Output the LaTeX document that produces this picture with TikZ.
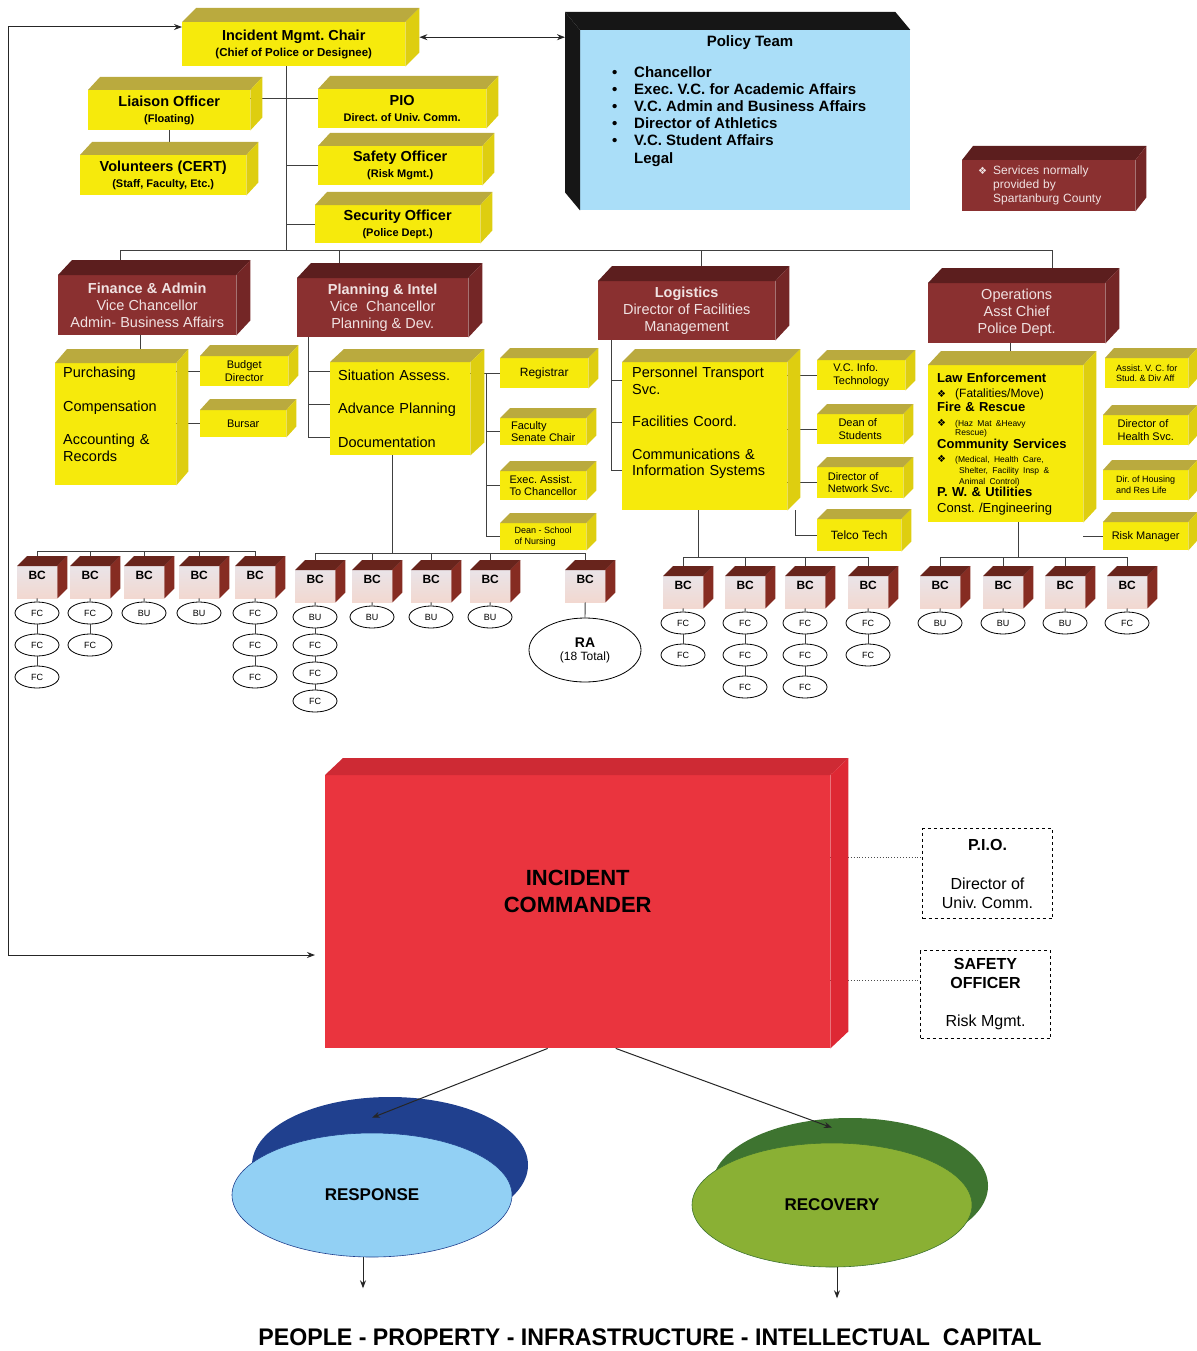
\documentclass[tikz,border=0pt]{standalone}
\usepackage{fontspec}
\setmainfont{Liberation Sans}
\newfontfamily\symfont{DejaVu Sans}
\usetikzlibrary{positioning,calc,shapes.geometric,arrows.meta}

\definecolor{yelfront}{RGB}{246,234,12}
\definecolor{yeltop}{RGB}{186,170,62}
\definecolor{yelside}{RGB}{222,206,16}
\definecolor{brnfront}{RGB}{138,48,48}
\definecolor{brntop}{RGB}{92,30,30}
\definecolor{brnside}{RGB}{116,38,38}
\definecolor{brntext}{RGB}{240,226,226}
\definecolor{polfront}{RGB}{170,222,248}
\definecolor{poldark}{RGB}{22,22,22}
\definecolor{icfront}{RGB}{234,52,62}
\definecolor{ictop}{RGB}{206,42,52}
\definecolor{icside}{RGB}{222,40,52}
\definecolor{bcfronttop}{RGB}{234,228,232}
\definecolor{bcfrontbot}{RGB}{242,216,208}
\definecolor{bctop}{RGB}{104,36,28}
\definecolor{bcside}{RGB}{134,44,34}
\definecolor{respfront}{RGB}{146,208,244}
\definecolor{respback}{RGB}{32,64,142}
\definecolor{recfront}{RGB}{138,176,52}
\definecolor{recback}{RGB}{62,116,48}

\newcommand\fsz[2]{\fontsize{#1}{#2}\selectfont}
\newcommand\fleuron{{\symfont\fsz{10}{10}\char"2756}}
% top and right faces of a box node
\newcommand\faces[4]{%
  \fill[#4top] (#1.north west) -- ++(#2,-#3) -- ([shift={(#2,-#3)}]#1.north east) -- (#1.north east) -- cycle;
  \fill[#4side] (#1.north east) -- ([shift={(#2,-#3)}]#1.north east) -- ([shift={(#2,-#3)}]#1.south east) -- (#1.south east) -- cycle;
}

\pgfdeclarelayer{bg}
\pgfsetlayers{bg,main}

\tikzset{
  yelbox/.style={rectangle, fill=yelfront, anchor=north west, inner sep=0pt, align=center, font=\bfseries\fsz{14.5}{16}},
  smallbox/.style={rectangle, fill=yelfront, anchor=north west, inner sep=0pt, align=left, font=\fsz{11}{12.5}},
  listbox/.style={rectangle, fill=yelfront, anchor=north west, inner sep=0pt, align=left, font=\fsz{14.5}{16.5}},
  brnbox/.style={rectangle, fill=brnfront, anchor=north west, inner sep=0pt, align=center, text=brntext, font=\fsz{14.5}{17}},
  bcbox/.style={rectangle, top color=bcfronttop, bottom color=bcfrontbot, anchor=north west, minimum width=40, minimum height=32, inner sep=0pt, text height=8pt, text depth=13pt, font=\bfseries\fsz{12}{14}},
  unit/.style={ellipse, draw, line width=0.8, fill=white, minimum width=44, minimum height=22, inner sep=0pt, font=\fsz{9}{10}},
  sidebox/.style={rectangle, draw, dashed, line width=1, anchor=north west, inner sep=0pt, align=center, font=\fsz{16}{19}},
  link/.style={draw=black!75, line width=0.9},
  dots/.style={draw=black!70, dotted, line width=0.9},
  arr/.style={draw=black!85, line width=1, -{Stealth[length=8pt,width=6pt]}},
  dbl/.style={draw=black!85, line width=1, {Stealth[length=8pt,width=6pt]}-{Stealth[length=8pt,width=6pt]}},
}

\begin{document}
\frenchspacing
\begin{tikzpicture}[x=1pt, y=-1pt]
\useasboundingbox (0,0) rectangle (1196,1351);

% command staff
\node[yelbox, minimum width=223, minimum height=44] (chair) at (182,22) {Incident Mgmt. Chair\\{\fsz{11.5}{13}(Chief of Police or Designee)}};
\faces{chair}{14}{14}{yel}
\node[yelbox, minimum width=162, minimum height=40] (liaison) at (88,90) {Liaison Officer\\{\fsz{11}{13}(Floating)}};
\faces{liaison}{12}{13}{yel}
\node[yelbox, minimum width=166, minimum height=40] (volunteers) at (80,155) {Volunteers (CERT)\\{\fsz{11}{13}(Staff, Faculty, Etc.)}};
\faces{volunteers}{12}{13}{yel}
\node[yelbox, minimum width=168, minimum height=39] (pio) at (318,89) {PIO\\{\fsz{11}{13}Direct. of Univ. Comm.}};
\faces{pio}{12}{13}{yel}
\node[yelbox, minimum width=164, minimum height=39] (safety) at (318,146) {Safety Officer\\{\fsz{11}{13}(Risk Mgmt.)}};
\faces{safety}{12}{13}{yel}
\node[yelbox, minimum width=165, minimum height=38] (security) at (315,205) {Security Officer\\{\fsz{11}{13}(Police Dept.)}};
\faces{security}{12}{13}{yel}

% policy team
\node[rectangle, fill=polfront, anchor=north west, minimum width=330, minimum height=180, inner sep=0pt] (policy) at (580,30) {};
\fill[poldark] (policy.north west) -- ++(-15,-18) -- ([shift={(-15,-18)}]policy.north east) -- (policy.north east) -- cycle;
\fill[poldark] (policy.north west) -- ++(-15,-18) -- ([shift={(-15,-18)}]policy.south west) -- (policy.south west) -- cycle;
\node[font=\bfseries\fsz{15}{17}, anchor=base] (policytitle) at (750,47) {Policy Team};
\node[anchor=north west, align=left, inner sep=0pt, font=\bfseries\fsz{15}{17.2}] (policylist) at (612,66) {\makebox[22pt][l]{\textbullet}Chancellor\\
  \makebox[22pt][l]{\textbullet}Exec. V.C. for Academic Affairs\\
  \makebox[22pt][l]{\textbullet}V.C. Admin and Business Affairs\\
  \makebox[22pt][l]{\textbullet}Director of Athletics\\
  \makebox[22pt][l]{\textbullet}V.C. Student Affairs\\
  \hspace*{22pt}Legal};

\node[rectangle, fill=brnfront, anchor=north west, minimum width=173, minimum height=51, inner sep=0pt, align=left, text width=141, text=brntext, font=\fsz{12}{14}] (services) at (962,160) {\makebox[15pt][l]{\fleuron}Services normally\\\hspace*{15pt}provided by\\\hspace*{15pt}Spartanburg County};
\faces{services}{11}{14}{brn}

% sections
\node[brnbox, minimum width=178, minimum height=60] (fin) at (58,275) {\textbf{Finance \& Admin}\\Vice Chancellor\\Admin- Business Affairs};
\faces{fin}{14}{15}{brn}
\node[brnbox, minimum width=171, minimum height=59] (plan) at (297,278) {\textbf{Planning \& Intel}\\Vice\ \ Chancellor\\Planning \& Dev.};
\faces{plan}{14}{15}{brn}
\node[brnbox, minimum width=177, minimum height=59] (logi) at (598,281) {\textbf{Logistics}\\Director of Facilities\\Management};
\faces{logi}{14}{15}{brn}
\node[brnbox, minimum width=177, minimum height=60] (ops) at (928,283) {Operations\\Asst Chief\\Police Dept.};
\faces{ops}{14}{15}{brn}

% finance
\node[listbox, minimum width=121, minimum height=122, text width=105] (finbox) at (55,363) {Purchasing\\[17pt]Compensation\\[17pt]Accounting \&\\Records\\[3.5pt]\mbox{}};
\faces{finbox}{12}{14}{yel}
\node[smallbox, align=center, minimum width=88, minimum height=30] (budget) at (200,356) {Budget\\Director};
\faces{budget}{10}{11}{yel}
\node[smallbox, align=center, minimum width=86, minimum height=27] (bursar) at (200,410) {Bursar};
\faces{bursar}{10}{11}{yel}

% planning
\node[listbox, minimum width=140, minimum height=93, text width=124] (planbox) at (330,362) {Situation Assess.\\[17pt]Advance Planning\\[17pt]Documentation};
\faces{planbox}{14}{13}{yel}
\node[smallbox, align=center, minimum width=88, minimum height=30, font=\fsz{12}{14}] (registrar) at (500,358) {Registrar};
\faces{registrar}{10}{10}{yel}
\node[smallbox, minimum width=86, minimum height=27] (faculty) at (500,418) {Faculty\\Senate Chair};
\faces{faculty}{10}{10}{yel}
\node[smallbox, minimum width=86, minimum height=29] (execassist) at (500,471) {Exec. Assist.\\To Chancellor};
\faces{execassist}{10}{10}{yel}
\node[smallbox, minimum width=86, minimum height=27, font=\fsz{9}{11}] (nursing) at (500,523) {Dean - School\\of Nursing};
\faces{nursing}{10}{10}{yel}

% logistics
\node[listbox, minimum width=165, minimum height=148, text width=145] (logibox) at (622,362) {Personnel Transport\\Svc.\\[16pt]Facilities Coord.\\[16pt]Communications \&\\Information Systems\\[12.5pt]\mbox{}};
\faces{logibox}{13}{13}{yel}
\node[smallbox, minimum width=88, minimum height=30] (vcinfo) at (817,360) {V.C. Info.\\Technology};
\faces{vcinfo}{10}{10}{yel}
\node[smallbox, minimum width=86, minimum height=30] (deanstud) at (817,414) {Dean of\\Students};
\faces{deanstud}{10}{10}{yel}
\node[smallbox, minimum width=86, minimum height=31] (netsvc) at (817,467) {Director of\\Network Svc.};
\faces{netsvc}{10}{10}{yel}
\node[smallbox, align=center, minimum width=84, minimum height=32, font=\fsz{12}{14}] (telco) at (817,519) {Telco Tech};
\faces{telco}{10}{10}{yel}

% operations
\node[rectangle, fill=yelfront, anchor=north west, inner sep=0pt, align=left, minimum width=155, minimum height=157, text width=137, font={\fsz{13}{14}\lineskiplimit=-20pt}] (opsbox) at (928,365) {\textbf{Law Enforcement}\\[1pt]
  \makebox[18pt][l]{\fleuron}{\fsz{12}{13}(Fatalities/Move)}\\
  \textbf{Fire \& Rescue}\\[1pt]
  \makebox[18pt][l]{\fleuron}{\fsz{8.5}{9}(Haz Mat \&Heavy}\\[-5pt]
  \hspace*{18pt}{\fsz{8.5}{9}Rescue)}\\[-1pt]
  \textbf{Community Services}\\
  \makebox[18pt][l]{\fleuron}{\fsz{8.5}{9}(Medical, Health Care,}\\[-3pt]
  \hspace*{22pt}{\fsz{8.5}{9}Shelter, Facility Insp \&}\\[-3pt]
  \hspace*{22pt}{\fsz{8.5}{9}Animal Control)}\\[-2pt]
  \textbf{P. W. \& Utilities}\\[2pt]
  Const. /Engineering};
\faces{opsbox}{13}{14}{yel}
\node[smallbox, minimum width=83, minimum height=30, font=\fsz{9}{10.5}] (assistvc) at (1105,358) {Assist. V. C. for\\Stud. \& Div Aff};
\faces{assistvc}{9}{10}{yel}
\node[smallbox, minimum width=85, minimum height=30] (healthsvc) at (1103,415) {Director of\\Health Svc.};
\faces{healthsvc}{9}{10}{yel}
\node[smallbox, minimum width=85, minimum height=30, font=\fsz{9}{11}] (housing) at (1103,470) {Dir. of Housing\\and Res Life};
\faces{housing}{9}{10}{yel}
\node[smallbox, align=center, minimum width=85, minimum height=28] (riskmgr) at (1103,522) {Risk Manager};
\faces{riskmgr}{9}{10}{yel}

% branches and units
\foreach \n/\x/\y/\gap/\units in {1/17/566/32/{FC,FC,FC}, 2/70/566/32/{FC,FC}, 3/124/566/32/{BU}, 4/179/566/32/{BU}, 5/235/566/32/{FC,FC,FC},
    6/295/570/28/{BU,FC,FC,FC}, 7/352/570/32/{BU}, 8/411/570/32/{BU}, 9/470/570/32/{BU},
    11/663/576/32/{FC,FC}, 12/725/576/32/{FC,FC,FC}, 13/785/576/32/{FC,FC,FC}, 14/848/576/32/{FC,FC},
    15/920/576/32/{BU}, 16/983/576/32/{BU}, 17/1045/576/32/{BU}, 18/1107/576/32/{FC}} {
  \node[bcbox] (bc\n) at (\x,\y) {BC};
  \faces{bc\n}{10}{10}{bc}
  \foreach \u [count=\k] in \units {
    \node[unit] (u\n-\k) at ({\x+20},{\y+47+\gap*(\k-1)}) {\u};
    \ifnum\k=1
      \draw[link] (bc\n.south) -- (u\n-\k.north);
    \else
      \pgfmathtruncatemacro\prev{\k-1}
      \draw[link] (u\n-\prev.south) -- (u\n-\k.north);
    \fi
  }
}
\node[bcbox] (bc10) at (565,570) {BC};
\faces{bc10}{10}{10}{bc}
\node[ellipse, draw, line width=0.8, minimum width=112, minimum height=64, inner sep=0pt, align=center, font=\fsz{12}{13}] (ra) at (585,650) {{\bfseries\fsz{14}{15}RA}\\(18 Total)};
\draw[link] (bc10.south) -- (ra.north);

% incident commander
\node[rectangle, fill=icfront, anchor=north west, minimum width=505, minimum height=273, inner sep=0pt, align=center, font=\bfseries\fsz{22}{27}] (ic) at (325,775) {INCIDENT\\COMMANDER\\[13pt]\mbox{}};
\faces{ic}{18}{17}{ic}
\node[sidebox, minimum width=130, minimum height=90] (piobox) at (922,828) {\textbf{P.I.O.}\\[20pt]Director of\\Univ. Comm.};
\node[sidebox, minimum width=130, minimum height=88] (safebox) at (920,950) {\textbf{SAFETY}\\\textbf{OFFICER}\\[19pt]Risk Mgmt.};

\fill[respback] (390,1165) ellipse [x radius=138, y radius=68];
\node[ellipse, fill=respfront, draw=respback, line width=0.6, minimum width=280, minimum height=124, font=\bfseries\fsz{17}{20}] (resp) at (372,1195) {RESPONSE};
\fill[recback] (850,1186) ellipse [x radius=138, y radius=68];
\node[ellipse, fill=recfront, draw=recback, line width=0.6, minimum width=280, minimum height=124, font=\bfseries\fsz{17}{20}] (recov) at (832,1205) {RECOVERY};
\node[font=\bfseries\fsz{24}{27}] (assets) at (650,1337) {\scalebox{0.965}[1]{PEOPLE - PROPERTY - INFRASTRUCTURE - INTELLECTUAL\ \ CAPITAL}};

\draw[arr] ([xshift=-30]ic.south) -- ([yshift=15]resp.north);
\draw[arr] ([xshift=38]ic.south) -- ([yshift=15]recov.north);
\draw[arr] ([xshift=-9]resp.south) -- ++(0,31);
\draw[arr] ([xshift=5]recov.south) -- ++(0,31);

\coordinate (loopcorner) at (8,955);
\draw[dbl, shorten >=10pt] ([yshift=-5]chair.north west) -| (loopcorner) -- (ic.west |- loopcorner);
\coordinate (chairpol) at ([xshift=14,yshift=7]chair.east);
\draw[dbl, shorten >=15pt] (chairpol) -- (policy.west |- chairpol);

\begin{pgfonlayer}{bg}
\coordinate (spine) at ([xshift=-7]chair.south);
\coordinate (bus) at (0,250);
\draw[link] (spine) -- (spine |- bus);
\draw[link] ([yshift=12]liaison.east) -- ([yshift=10.5]pio.west);
\draw[link] (liaison.south) -- (liaison.south |- volunteers.north);
\draw[link] (spine |- safety.west) -- (safety.west);
\draw[link] (spine |- security.west) -- (security.west);

\coordinate (finup) at ([xshift=-27]fin.north);
\coordinate (planup) at ([xshift=-43]plan.north);
\coordinate (logiup) at ([xshift=15]logi.north);
\coordinate (opsup) at ([xshift=36]ops.north);
\draw[link] (finup |- bus) -- (opsup |- bus);
\foreach \h in {finup,planup,logiup,opsup} \draw[link] (\h |- bus) -- (\h);

\coordinate (findn) at ([xshift=-7]fin.south);
\draw[link] (findn) -- (findn |- finbox.north);
\draw[link] (finbox.east |- budget.west) -- (budget.west);
\draw[link] (finbox.east |- bursar.west) -- (bursar.west);

\coordinate (plL) at ([xshift=11]plan.south west);
\foreach \dy in {9,42,75} \draw[link] (plL) |- ([yshift=-\dy]planbox.north west);
\coordinate (plR) at ([xshift=16]planbox.north east);
\draw[link] (planbox.east |- registrar.west) -- (registrar.west);
\draw[link] (plR |- registrar.west) |- (nursing.west);
\draw[link] (plR |- faculty.west) -- (faculty.west);
\draw[link] (plR |- execassist.west) -- (execassist.west);

\coordinate (lgL) at ([xshift=13]logi.south west);
\foreach \dy in {18,60,108} \draw[link] (lgL) |- ([yshift=-\dy]logibox.north west);
\draw[link] (logibox.east |- vcinfo.west) -- (vcinfo.west);
\draw[link] (logibox.east |- deanstud.west) -- (deanstud.west);
\draw[link] (logibox.east |- netsvc.west) -- (netsvc.west);
\coordinate (lgtel) at ([xshift=8]logibox.south east);
\draw[link] (lgtel) |- (telco.west);

\coordinate (opsdn) at ([xshift=-6]ops.south);
\draw[link] (opsdn) -- (opsdn |- opsbox.north);
\draw[link] (opsbox.east |- riskmgr.west) -- (riskmgr.west);

\coordinate (busa) at (0,551);
\coordinate (busb) at (0,553);
\coordinate (busc) at (0,557);
\coordinate (busd) at (0,557);
\draw[link] (bc1.north |- busa) -- (bc5.north |- busa);
\foreach \n in {1,...,5} \draw[link] (bc\n.north |- busa) -- (bc\n.north);
\coordinate (pltrunk) at ([xshift=-8]planbox.south);
\draw[link] (pltrunk) -- (pltrunk |- busb);
\draw[link] (bc6.north |- busb) -- (bc10.north |- busb);
\foreach \n in {6,...,10} \draw[link] (bc\n.north |- busb) -- (bc\n.north);
\coordinate (lgtrunk) at ([xshift=-6]logibox.south);
\draw[link] (lgtrunk) -- (lgtrunk |- busc);
\draw[link] (bc11.north |- busc) -- (bc14.north |- busc);
\foreach \n in {11,...,14} \draw[link] (bc\n.north |- busc) -- (bc\n.north);
\coordinate (opstrunk) at ([xshift=13]opsbox.south);
\draw[link] (opstrunk) -- (opstrunk |- busd);
\draw[link] (bc15.north |- busd) -- (bc18.north |- busd);
\foreach \n in {15,...,18} \draw[link] (bc\n.north |- busd) -- (bc\n.north);

\coordinate (piolink) at ([yshift=16]piobox.west);
\draw[dots] (ic.east |- piolink) -- (piolink);
\coordinate (safelink) at ([yshift=14]safebox.west);
\draw[dots] (ic.east |- safelink) -- (safelink);
\end{pgfonlayer}
\end{tikzpicture}
\end{document}
